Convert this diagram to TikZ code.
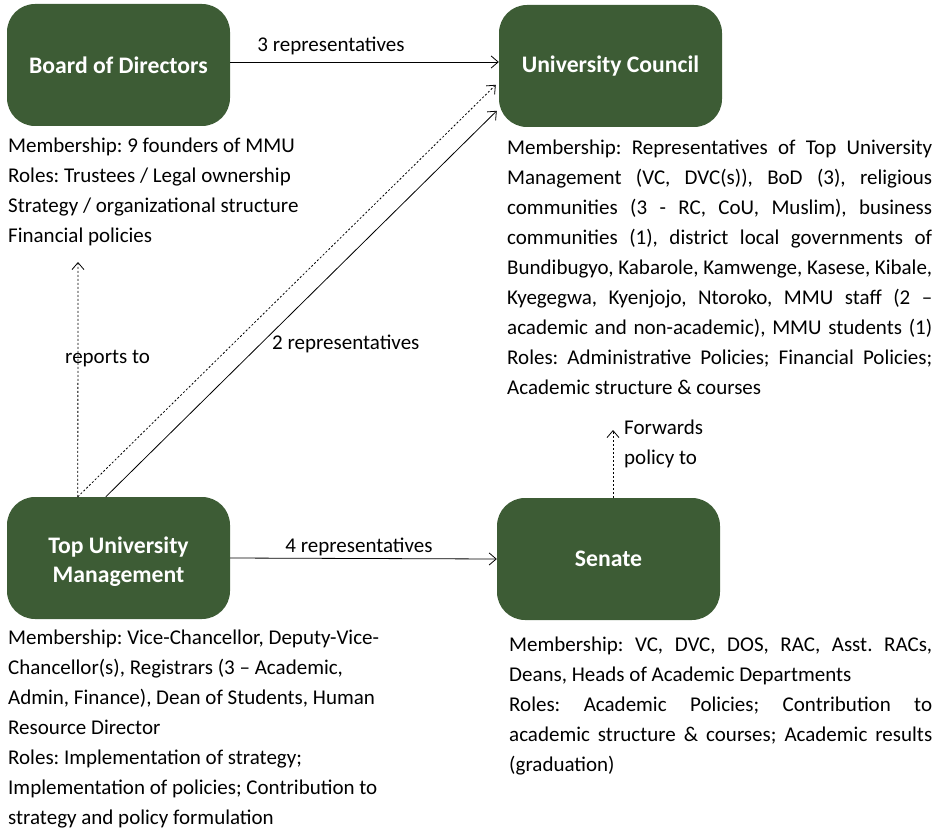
\documentclass[tikz,border=0pt]{standalone}
\usepackage{fontspec}
\setmainfont{Carlito}
\usetikzlibrary{arrows.meta,calc}
\definecolor{boxgreen}{HTML}{3D5C35}
\newcommand\jl[2]{\makebox[#1pt][s]{#2}}
\frenchspacing
\begin{document}
\begin{tikzpicture}[x=1pt,y=-1pt,
  box/.style={fill=boxgreen, rounded corners=28pt, minimum width=223pt, minimum height=122pt,
    text=white, font=\fontsize{23.7}{29}\selectfont\bfseries, align=center, inner sep=0pt},
  boxtext/.style={text=white, font=\fontsize{23.7}{29}\selectfont\bfseries, align=center, inner sep=0pt},
  body/.style={font=\fontsize{21}{30}\selectfont, inner sep=0pt, anchor=north west, align=left},
  lab/.style={font=\fontsize{21}{30}\selectfont, inner sep=0pt},
  arr/.style={-{Straight Barb[length=7pt,width=12pt]}, line width=0.8pt},
  dotarr/.style={arr, dash pattern=on 2pt off 2pt}]
\useasboundingbox (0,0) rectangle (944,829);
\node[box] (bod) at (118.5,65) {Board of Directors};
\node[box] (uc) at (610.5,66) {University Council};
\node[box] (tum) at (118.5,558) {};
\node[boxtext] (tumlbl) at (118.5,562) {Top University\\Management};
\node[box] (sen) at (608.5,559) {Senate};

\node[body] (bodtxt) at (8,138) {Membership: 9 founders of MMU\\Roles: Trustees / Legal ownership\\Strategy / organizational structure\\Financial policies};

\node[body] (uctxt) at (507,140) {\jl{425}{Membership: Representatives of Top University}\\
\jl{425}{Management (VC, DVC(s)), BoD (3), religious}\\
\jl{425}{communities (3 - RC, CoU, Muslim), business}\\
\jl{425}{communities (1), district local governments of}\\
\jl{425}{Bundibugyo, Kabarole, Kamwenge, Kasese, Kibale,}\\
\jl{425}{Kyegegwa, Kyenjojo, Ntoroko, MMU staff (2 –}\\
\jl{425}{academic and non-academic), MMU students (1)}\\
\jl{425}{Roles: Administrative Policies; Financial Policies;}\\
Academic structure \& courses};

\node[body] (tumtxt) at (8,630) {Membership: Vice-Chancellor, Deputy-Vice-\\Chancellor(s), Registrars (3 – Academic,\\Admin, Finance), Dean of Students, Human\\Resource Director\\Roles: Implementation of strategy;\\Implementation of policies; Contribution to\\strategy and policy formulation};

\node[body] (sentxt) at (509,637) {\jl{423}{Membership: VC, DVC, DOS, RAC, Asst. RACs,}\\
Deans, Heads of Academic Departments\\
\jl{423}{Roles: Academic Policies; Contribution to}\\
\jl{423}{academic structure \& courses; Academic results}\\
(graduation)};

\coordinate (rtop) at (78,262);
\coordinate (ftop) at (613,430);

\draw[arr] ([yshift=3pt]bod.east) -- ([yshift=4pt]uc.west);
\draw[dotarr] ($(tum.north west)+(71,0)$) -- ($(uc.north west)+(-3,80)$);
\draw[arr] ($(tum.north west)+(99,0)$) -- ($(uc.north west)+(-2,106)$);
\draw[dotarr] ($(tum.north west)+(71,0)$) -- (rtop);
\draw[arr] (tum.east) -- (sen.west);
\draw[dotarr] ($(sen.north)+(4.5,0)$) -- (ftop);

\node[lab] (l3) at (331,46) {3 representatives};
\node[lab, anchor=west] (l2) at (272,344) {2 representatives};
\node[lab, anchor=west] (lr) at (65,359) {reports to};
\node[lab] (l4) at (359,547) {4 representatives};
\node[body] (lf) at (624,420) {Forwards\\policy to};
\end{tikzpicture}
\end{document}
